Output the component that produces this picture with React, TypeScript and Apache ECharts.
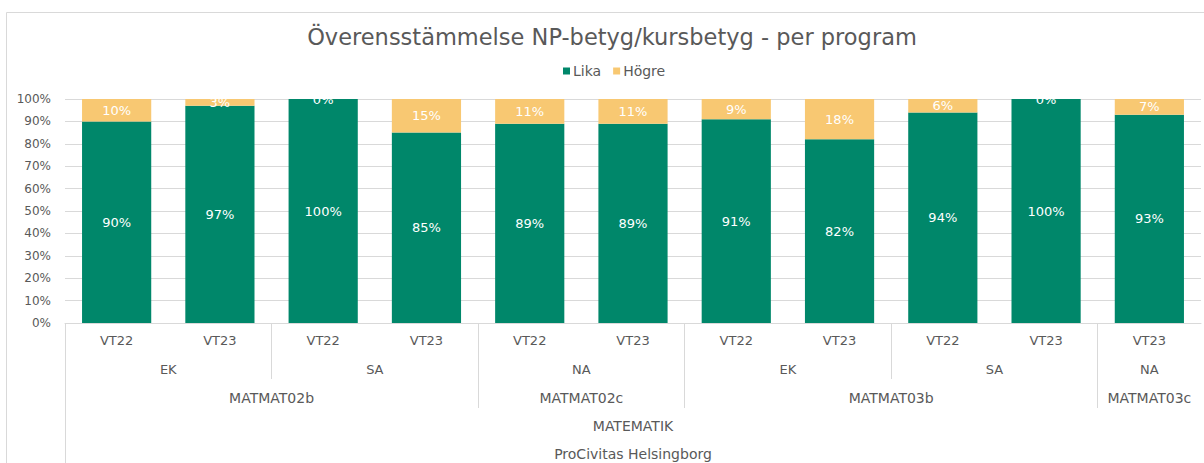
import React, { useEffect, useRef } from "react";
import * as echarts from "echarts";

// ---- data ----
const terms = ["VT22", "VT23", "VT22", "VT23", "VT22", "VT23", "VT22", "VT23", "VT22", "VT23", "VT23"];
const programs = [
  { label: "EK", span: 2 },
  { label: "SA", span: 2 },
  { label: "NA", span: 2 },
  { label: "EK", span: 2 },
  { label: "SA", span: 2 },
  { label: "NA", span: 1 },
];
const courses = [
  { label: "MATMAT02b", span: 4 },
  { label: "MATMAT02c", span: 2 },
  { label: "MATMAT03b", span: 4 },
  { label: "MATMAT03c", span: 1 },
];
const subjects = [{ label: "MATEMATIK", span: 11 }];
const schools = [{ label: "ProCivitas Helsingborg", span: 11 }];
const lika = [90, 97, 100, 85, 89, 89, 91, 82, 94, 100, 93];
const hogre = [10, 3, 0, 15, 11, 11, 9, 18, 6, 0, 7];
const yTicks = [0, 10, 20, 30, 40, 50, 60, 70, 80, 90, 100];

const TITLE = "Överensstämmelse NP-betyg/kursbetyg - per program";
const GREEN = "#00876a";
const YELLOW = "#f8c872";
const GRAY = "#d9d9d9";
const TEXT = "#595959";
const FONT = "DejaVu Sans";

// builds 2n+1 slot axis data for a grouped level
function buildLevel(groups: { label: string; span: number }[]) {
  const n = terms.length;
  const slots: string[] = new Array(2 * n + 1).fill("");
  const bounds: number[] = [];
  let start = 0;
  groups.forEach((g, i) => {
    const center = 2 * start + g.span;
    slots[center] = g.label;
    start += g.span;
    if (i < groups.length - 1) bounds.push(2 * start);
  });
  return { slots, bounds };
}

export default function App() {
  const ref = useRef<HTMLDivElement>(null);
  useEffect(() => {
    if (!ref.current) return;
    const chart = echarts.init(ref.current, null, { renderer: "svg" });
    const lv2 = buildLevel(programs);
    const lv3 = buildLevel(courses);
    const lv4 = buildLevel(subjects);
    const lv5 = buildLevel(schools);

    const levelAxis = (
      d: { slots: string[]; bounds: number[] },
      margin: number,
      tickLen: number,
      fontSize: number,
      extraBounds: number[] = []
    ) => ({
      type: "category",
      position: "bottom",
      boundaryGap: false,
      data: d.slots,
      axisLine: { show: false },
      axisTick: {
        show: true,
        length: tickLen,
        interval: (i: number) => d.bounds.includes(i) || extraBounds.includes(i),
        lineStyle: { color: GRAY, width: 1 },
      },
      axisLabel: { interval: 0, margin, color: TEXT, fontSize, fontFamily: FONT },
      splitLine: { show: false },
    });

    const dataLabel = {
      show: true,
      position: "inside",
      formatter: "{c}%",
      color: "#ffffff",
      fontSize: 13,
      fontFamily: FONT,
    };

    chart.setOption({
      animation: false,
      backgroundColor: "#ffffff",
      graphic: [
        {
          type: "rect",
          shape: { x: 6.5, y: 12.5, width: 1300, height: 600 },
          style: { fill: "none", stroke: GRAY, lineWidth: 1 },
          silent: true,
        },
        {
          type: "text",
          x: 612,
          y: 37,
          style: {
            text: TITLE,
            fill: TEXT,
            font: `22.5px '${FONT}'`,
            textAlign: "center",
            textVerticalAlign: "middle",
          },
        },
      ],
      legend: {
        data: ["Lika", "Högre"],
        left: 563,
        top: 64,
        padding: 0,
        itemWidth: 7,
        itemHeight: 7,
        itemGap: 12,
        icon: "rect",
        textStyle: { color: TEXT, fontSize: 14, fontFamily: FONT, padding: [0, 0, 0, -2] },
      },
      grid: { left: 65, right: 1, top: 99, bottom: 140, containLabel: false },
      xAxis: [
        {
          type: "category",
          position: "bottom",
          data: terms,
          axisLine: { show: true, lineStyle: { color: GRAY, width: 1 } },
          axisTick: { show: false },
          axisLabel: { interval: 0, margin: 11, color: TEXT, fontSize: 13, fontFamily: FONT },
        },
        levelAxis(lv2, 40, 56, 13),
        levelAxis(lv3, 68, 85, 14),
        levelAxis(lv4, 96, 150, 14, [0]),
        levelAxis(lv5, 124, 0, 14),
      ],
      yAxis: {
        type: "value",
        min: yTicks[0],
        max: yTicks[yTicks.length - 1],
        interval: yTicks[1] - yTicks[0],
        axisLine: { show: false },
        axisTick: { show: false },
        axisLabel: { formatter: "{value}%", color: TEXT, fontSize: 12, fontFamily: FONT, margin: 14 },
        splitLine: { lineStyle: { color: GRAY, width: 1 } },
      },
      series: [
        {
          name: "Lika",
          type: "bar",
          stack: "total",
          xAxisIndex: 0,
          data: lika,
          barCategoryGap: "33%",
          itemStyle: { color: GREEN },
          label: dataLabel,
        },
        {
          name: "Högre",
          type: "bar",
          stack: "total",
          xAxisIndex: 0,
          data: hogre,
          barCategoryGap: "33%",
          itemStyle: { color: YELLOW },
          label: dataLabel,
        },
      ],
    });
    return () => chart.dispose();
  }, []);
  return (
    <div
      ref={ref}
      style={{ position: "absolute", left: 0, top: 0, width: 1204, height: 463 }}
    />
  );
}
